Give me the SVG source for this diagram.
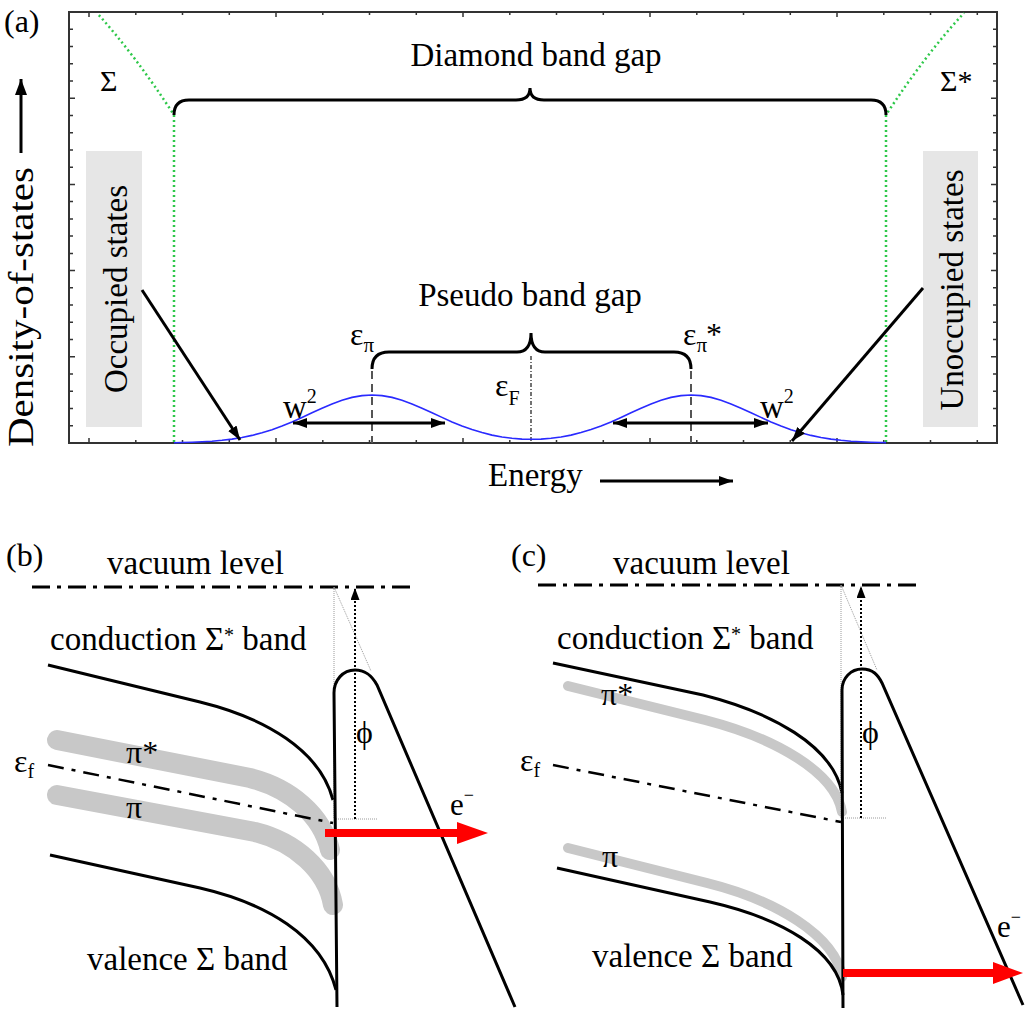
<svg xmlns="http://www.w3.org/2000/svg" width="1032" height="1013" viewBox="0 0 1032 1013">
<style>
.frame{fill:none;stroke:#333;stroke-width:2}
.tick{fill:none;stroke:#333;stroke-width:1.5}
.green{fill:none;stroke:#2ec84a;stroke-width:2.5;stroke-dasharray:2 3}
.brace{fill:none;stroke:#000;stroke-width:3}
.blk{fill:none;stroke:#000;stroke-width:3}
.band{fill:none;stroke:#000;stroke-width:3}
.gray{fill:none;stroke:#c8c8c8;stroke-linecap:round}
.vac{fill:none;stroke:#000;stroke-width:3;stroke-dasharray:18 7 4 7}
.ef{fill:none;stroke:#000;stroke-width:2.5;stroke-dasharray:16 8 4 8}
.thin{fill:none;stroke:#9a9a9a;stroke-width:1;stroke-dasharray:1 1}
.phi{fill:none;stroke:#000;stroke-width:2;stroke-dasharray:2 2}
.red{fill:none;stroke:#f00;stroke-width:8}
.box{fill:#e6e6e6}
</style>
<defs>
<marker id="ah" viewBox="0 0 14 10" refX="14" refY="5" markerWidth="14" markerHeight="10" markerUnits="userSpaceOnUse" orient="auto-start-reverse"><path d="M0,0L14,5L0,10z" fill="#000"/></marker>
<marker id="ahL" viewBox="0 0 16 12" refX="16" refY="6" markerWidth="16" markerHeight="12" markerUnits="userSpaceOnUse" orient="auto"><path d="M0,0L16,6L0,12z" fill="#000"/></marker>
<marker id="ahS" viewBox="0 0 12 9" refX="12" refY="4.5" markerWidth="12" markerHeight="9" markerUnits="userSpaceOnUse" orient="auto"><path d="M0,0L12,4.5L0,9z" fill="#000"/></marker>
</defs>

<g id="panel-a">
  <text x="4" y="32" font-size="32" font-family="Liberation Serif, serif">(a)</text>
  <rect id="occ-box" class="box" x="86" y="151" width="56" height="276"/>
  <rect id="unocc-box" class="box" x="923" y="151" width="55" height="276"/>
  <rect class="frame" x="69" y="12" width="928" height="431"/>
  <path class="tick" d="M69,29.2h4M69,46.5h4M69,63.7h4M69,81h4M69,98.2h6M69,115.4h4M69,132.7h4M69,149.9h4M69,167.2h4M69,184.4h6M69,201.6h4M69,218.9h4M69,236.1h4M69,253.4h4M69,270.6h6M69,287.8h4M69,305.1h4M69,322.3h4M69,339.6h4M69,356.8h6M69,374h4M69,391.3h4M69,408.5h4M69,425.8h4
  M997,29.2h-4M997,46.5h-4M997,63.7h-4M997,81h-4M997,98.2h-6M997,115.4h-4M997,132.7h-4M997,149.9h-4M997,167.2h-4M997,184.4h-6M997,201.6h-4M997,218.9h-4M997,236.1h-4M997,253.4h-4M997,270.6h-6M997,287.8h-4M997,305.1h-4M997,322.3h-4M997,339.6h-4M997,356.8h-6M997,374h-4M997,391.3h-4M997,408.5h-4M997,425.8h-4
  M89,443v-5M135.8,443v-3M182.5,443v-3M229.3,443v-3M276,443v-5M322.8,443v-3M369.5,443v-3M416.3,443v-3M463,443v-5M509.8,443v-3M556.5,443v-3M603.3,443v-3M650,443v-5M696.8,443v-3M743.5,443v-3M790.3,443v-3M837,443v-5M883.8,443v-3M930.5,443v-3M977.3,443v-3
  M89,12v5M135.8,12v3M182.5,12v3M229.3,12v3M276,12v5M322.8,12v3M369.5,12v3M416.3,12v3M463,12v5M509.8,12v3M556.5,12v3M603.3,12v3M650,12v5M696.8,12v3M743.5,12v3M790.3,12v3M837,12v5M883.8,12v3M930.5,12v3M977.3,12v3"/>
  <path id="sigma-left" class="green" d="M174,442V115Q135,55 97,13"/>
  <path id="sigma-right" class="green" d="M886,442V115Q925,55 964,13"/>
  <text x="100" y="91" font-size="30" font-family="Liberation Serif, serif">Σ</text>
  <text x="940" y="91" font-size="30" font-family="Liberation Serif, serif">Σ*</text>
  <path id="diamond-brace" class="brace" d="M174,115Q174,100 189,100L516,100Q530,100 530,88Q530,100 544,100L871,100Q886,100 886,115"/>
  <text x="536" y="66" font-size="33" font-family="Liberation Serif, serif" text-anchor="middle">Diamond band gap</text>
  <path id="pseudo-brace" class="brace" d="M372,369Q372,352 389,352L517,352Q531,352 531,333Q531,352 545,352L674,352Q691,352 691,369"/>
  <text x="530" y="306" font-size="33" font-family="Liberation Serif, serif" text-anchor="middle">Pseudo band gap</text>
  <path d="M372,371V443M691,371V443" fill="none" stroke="#555" stroke-width="2" stroke-dasharray="8 5"/>
  <path d="M531,356V443" fill="none" stroke="#444" stroke-width="1.5" stroke-dasharray="4 2 1 2"/>
  <polyline id="dos" fill="none" stroke="#2a2aff" stroke-width="1.6" points="174,442.7 182,442.5 192,442.2 202,441.8 212,441.2 222,440.3 232,439.1 242,437.5 252,435.4 262,432.8 272,429.7 282,426 292,421.9 302,417.4 312,412.7 322,408.2 332,403.9 342,400.2 352,397.4 362,395.6 372,395 382,395.6 392,397.4 402,400.2 412,403.9 422,408.2 432,412.7 442,417.4 452,421.9 462,426 472,429.6 482,432.6 492,435.1 502,437 512,438.3 522,439.1 531.5,439.3 541,439.1 551,438.3 561,437 571,435.1 581,432.6 591,429.6 601,426 611,421.9 621,417.4 631,412.7 641,408.2 651,403.9 661,400.2 671,397.4 681,395.6 691,395 701,395.6 711,397.4 721,400.2 731,403.9 741,408.2 751,412.7 761,417.4 771,421.9 781,426 791,429.7 801,432.8 811,435.4 821,437.5 831,439.1 841,440.3 851,441.2 861,441.8 871,442.2 881,442.5 886,442.6"/>
  <text x="350" y="345" font-size="32" font-family="Liberation Serif, serif">ε<tspan font-size="21" dy="7">π</tspan></text>
  <text x="683" y="345" font-size="32" font-family="Liberation Serif, serif">ε<tspan font-size="21" dy="7">π</tspan><tspan dy="-7" dx="-1">*</tspan></text>
  <text x="495" y="396" font-size="32" font-family="Liberation Serif, serif">ε<tspan font-size="20" dy="9">F</tspan></text>
  <text x="283" y="418" font-size="33" font-family="Liberation Serif, serif">w<tspan font-size="20" dy="-15">2</tspan></text>
  <text x="760" y="418" font-size="33" font-family="Liberation Serif, serif">w<tspan font-size="20" dy="-15">2</tspan></text>
  <text x="127" y="289" font-size="33" font-family="Liberation Serif, serif" text-anchor="middle" transform="rotate(-90 127 289)">Occupied states</text>
  <text x="963" y="290" font-size="33" font-family="Liberation Serif, serif" text-anchor="middle" transform="rotate(-90 963 290)">Unoccupied states</text>
  <text x="33" y="307" font-size="35" font-family="Liberation Serif, serif" text-anchor="middle" textLength="280" lengthAdjust="spacingAndGlyphs" transform="rotate(-90 33 307)">Density-of-states</text>
  <text x="488" y="486" font-size="33" font-family="Liberation Serif, serif">Energy</text>
</g>

<g id="connectors">
  <line class="blk" x1="142" y1="290" x2="240" y2="440" marker-end="url(#ah)"/>
  <line class="blk" x1="923" y1="288" x2="792" y2="441" marker-end="url(#ah)"/>
  <line class="blk" x1="293" y1="423" x2="445" y2="423" marker-start="url(#ah)" marker-end="url(#ah)"/>
  <line class="blk" x1="613" y1="423" x2="768" y2="423" marker-start="url(#ah)" marker-end="url(#ah)"/>
  <line class="blk" x1="21" y1="153" x2="21" y2="79" marker-end="url(#ahL)"/>
  <line class="blk" x1="600" y1="481" x2="733" y2="481" marker-end="url(#ah)"/>
</g>

<g id="panel-b">
  <text x="6" y="566" font-size="32" font-family="Liberation Serif, serif">(b)</text>
  <text x="107" y="574" font-size="33" font-family="Liberation Serif, serif">vacuum level</text>
  <line class="vac" x1="32" y1="587" x2="415" y2="587"/>
  <text x="50" y="650" font-size="33" font-family="Liberation Serif, serif">conduction Σ<tspan font-size="20" dy="-8">*</tspan><tspan dy="8"> band</tspan></text>
  <path class="gray" stroke-width="20" d="M57,740L250,778C290,788 322,815 330,850"/>
  <path class="gray" stroke-width="20" d="M57,795L255,832C295,842 327,870 333,905"/>
  <path class="band" d="M48,665L200,702C265,718 320,750 333,800"/>
  <path class="band" d="M50,855L200,888C265,903 322,935 336,990"/>
  <line class="ef" x1="48" y1="765" x2="333" y2="823"/>
  <text x="14" y="772" font-size="32" font-family="Liberation Serif, serif">ε<tspan font-size="20" dy="6">f</tspan></text>
  <text x="126" y="763" font-size="32" font-family="Liberation Serif, serif">π*</text>
  <text x="126" y="818" font-size="32" font-family="Liberation Serif, serif">π</text>
  <path class="thin" d="M334,587V819M334,587L371,671M334,819H378"/>
  <line class="phi" x1="355" y1="819" x2="355" y2="588" marker-end="url(#ahS)"/>
  <path class="blk" d="M337,1007L334,693C334,680 343,670 355,670C366,670 372,676 377,685L515,1007"/>
  <text x="356" y="743" font-size="32" font-family="Liberation Serif, serif">ϕ</text>
  <line class="red" x1="325" y1="833" x2="460" y2="833"/>
  <polygon points="457,822 488,833 457,844" fill="#f00"/>
  <text x="450" y="815" font-size="31" font-family="Liberation Serif, serif">e<tspan font-size="18" dy="-14">−</tspan></text>
  <text x="87" y="970" font-size="33" font-family="Liberation Serif, serif">valence Σ band</text>
</g>

<g id="panel-c">
  <text x="511" y="566" font-size="32" font-family="Liberation Serif, serif">(c)</text>
  <text x="613" y="574" font-size="33" font-family="Liberation Serif, serif">vacuum level</text>
  <line class="vac" x1="538" y1="585" x2="923" y2="585"/>
  <text x="557" y="649" font-size="33" font-family="Liberation Serif, serif">conduction Σ<tspan font-size="20" dy="-8">*</tspan><tspan dy="8"> band</tspan></text>
  <path class="gray" stroke-width="10" d="M568,686L705,720C775,738 835,772 842,812"/>
  <path class="gray" stroke-width="10" d="M568,848L707,883C775,900 835,935 842,977"/>
  <path class="band" d="M553,663L703,695C770,712 833,745 842,793"/>
  <path class="band" d="M557,868L710,902C780,918 838,950 843,995"/>
  <line class="ef" x1="553" y1="765" x2="841" y2="822"/>
  <text x="520" y="771" font-size="32" font-family="Liberation Serif, serif">ε<tspan font-size="20" dy="6">f</tspan></text>
  <text x="601" y="705" font-size="32" font-family="Liberation Serif, serif">π*</text>
  <text x="602" y="867" font-size="32" font-family="Liberation Serif, serif">π</text>
  <path class="thin" d="M841,585V818M841,585L877,670M841,818H887"/>
  <line class="phi" x1="861" y1="818" x2="861" y2="586" marker-end="url(#ahS)"/>
  <path class="blk" d="M843,1008L842,690C842,678 851,669 862,669C873,669 878,675 882,683L1023,1005"/>
  <text x="862" y="743" font-size="32" font-family="Liberation Serif, serif">ϕ</text>
  <line class="red" x1="843" y1="973" x2="995" y2="973"/>
  <polygon points="993,962 1023,973 993,984" fill="#f00"/>
  <text x="997" y="937" font-size="31" font-family="Liberation Serif, serif">e<tspan font-size="18" dy="-14">−</tspan></text>
  <text x="592" y="967" font-size="33" font-family="Liberation Serif, serif">valence Σ band</text>
</g>
</svg>
